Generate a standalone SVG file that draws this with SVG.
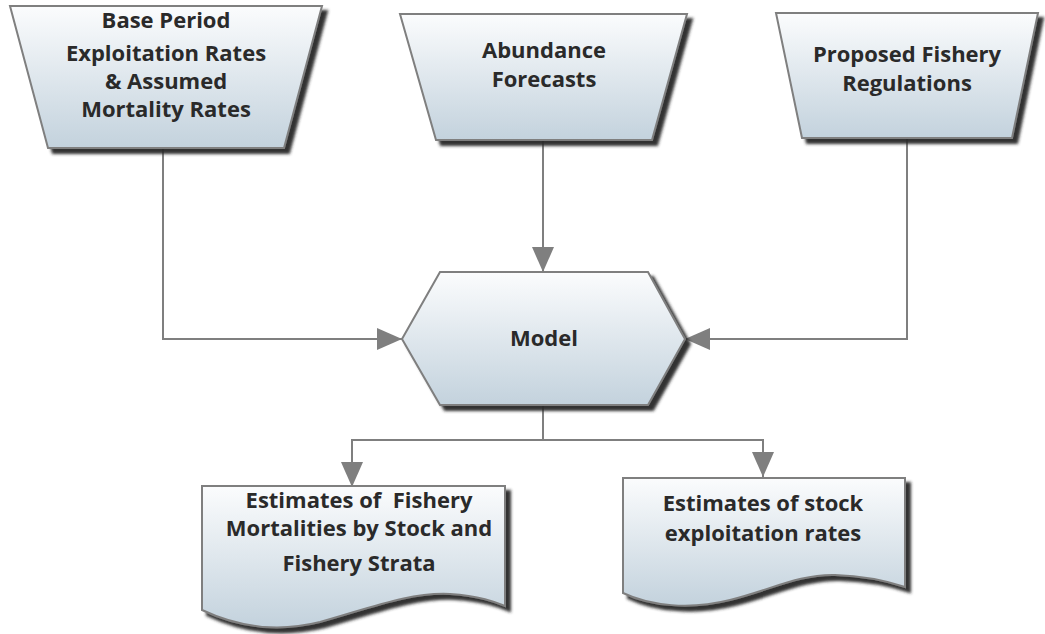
<svg xmlns="http://www.w3.org/2000/svg" width="1045" height="634" viewBox="0 0 1045 634">
  <defs>
    <linearGradient id="fill" x1="0" y1="0" x2="0" y2="1">
      <stop offset="0" stop-color="#fbfcfd"/>
      <stop offset="1" stop-color="#c3d2dd"/>
    </linearGradient>
    <filter id="shadow" x="-10%" y="-10%" width="130%" height="130%">
      <feDropShadow dx="5" dy="5" stdDeviation="1.6" flood-color="#262626" flood-opacity="0.95"/>
    </filter>
    <marker id="arrow" markerUnits="userSpaceOnUse" markerWidth="25" markerHeight="22" refX="25" refY="11" orient="auto">
      <path d="M0,0 L25,11 L0,22 Z" fill="#7f7f7f"/>
    </marker>
    <style>
      .shape { fill: url(#fill); stroke: #7f7f7f; stroke-width: 2; filter: url(#shadow); }
      .label { font-family: "Open Sans", "Liberation Sans", sans-serif; font-weight: 700; font-size: 22px; fill: #2a2a2a; text-anchor: middle; }
      .conn { fill: none; stroke: #7f7f7f; stroke-width: 2; }
    </style>
  </defs>
  <rect width="1045" height="634" fill="#ffffff"/>

  <g id="connectors">
    <path class="conn" d="M163,148 V339 H402" marker-end="url(#arrow)"/>
    <path class="conn" d="M543,140 V272" marker-end="url(#arrow)"/>
    <path class="conn" d="M907,138 V339 H685" marker-end="url(#arrow)"/>
    <path class="conn" d="M543,405 V440"/>
    <path class="conn" d="M543,440 H352 V487" marker-end="url(#arrow)"/>
    <path class="conn" d="M543,440 H763 V477" marker-end="url(#arrow)"/>
  </g>

  <g id="node-base-period">
    <polygon class="shape" points="10,6 322,6 284,148 48,148"/>
    <text class="label" x="166" y="28">Base Period</text>
    <text class="label" x="166" y="61">Exploitation Rates</text>
    <text class="label" x="166" y="89">&amp; Assumed</text>
    <text class="label" x="166" y="117">Mortality Rates</text>
  </g>

  <g id="node-abundance">
    <polygon class="shape" points="400,14 687,14 652,140 436,140"/>
    <text class="label" x="544" y="58">Abundance</text>
    <text class="label" x="544" y="87">Forecasts</text>
  </g>

  <g id="node-regulations">
    <polygon class="shape" points="776,13 1038,13 1012,138 802,138"/>
    <text class="label" x="907" y="62">Proposed Fishery</text>
    <text class="label" x="907" y="91">Regulations</text>
  </g>

  <g id="node-model">
    <polygon class="shape" points="402,339 440,272 648,272 685,339 648,405 440,405"/>
    <text class="label" x="544" y="346">Model</text>
  </g>

  <g id="node-fishery-mortalities">
    <path class="shape" d="M202,486 H505 V606 C495,602 480,596 450,594 C410,592 370,608 320,622 C280,632 240,628 202,610 Z"/>
    <text class="label" x="359" y="508" xml:space="preserve">Estimates of  Fishery</text>
    <text class="label" x="359" y="536">Mortalities by Stock and</text>
    <text class="label" x="359" y="571">Fishery Strata</text>
  </g>

  <g id="node-exploitation-rates">
    <path class="shape" d="M623,478 H905 V587 C890,582 865,576 835,575 C800,574 770,590 730,600 C690,610 650,606 623,593 Z"/>
    <text class="label" x="763" y="511">Estimates of stock</text>
    <text class="label" x="763" y="541">exploitation rates</text>
  </g>
</svg>
